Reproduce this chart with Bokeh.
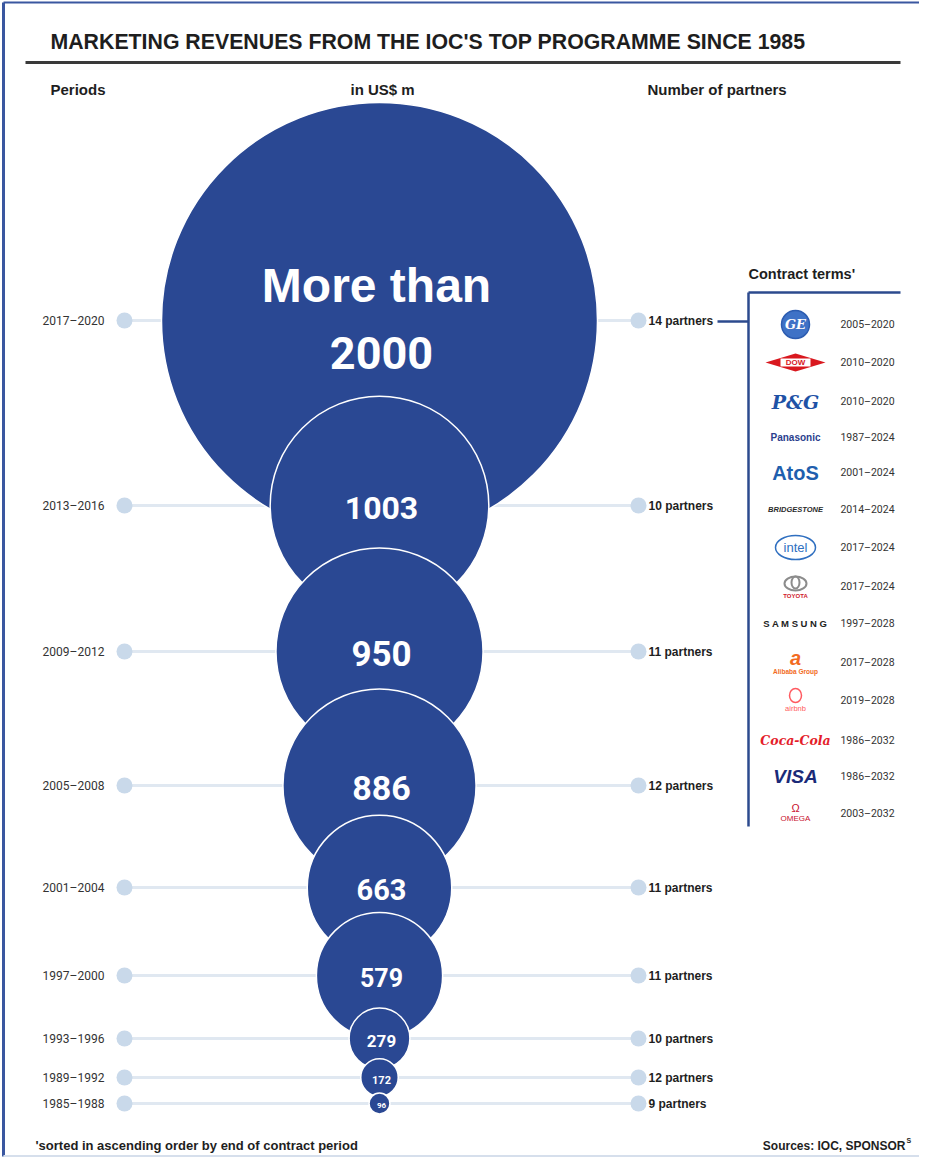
from bokeh.plotting import figure
from bokeh.models import Range1d, ColumnDataSource
from bokeh.core.properties import value
from bokeh.embed import file_html
from bokeh.resources import INLINE

# ---------------- data ----------------
periods = ["2017–2020", "2013–2016", "2009–2012", "2005–2008", "2001–2004",
           "1997–2000", "1993–1996", "1989–1992", "1985–1988"]
revenues = [2000, 1003, 950, 886, 663, 579, 279, 172, 96]
partners = [14, 10, 11, 12, 11, 11, 10, 12, 9]

sponsors = ["GE", "DOW", "P&G", "Panasonic", "AtoS", "BRIDGESTONE", "intel",
            "TOYOTA", "SAMSUNG", "Alibaba Group", "airbnb", "Coca-Cola", "VISA", "OMEGA"]
contract_terms = ["2005–2020", "2010–2020", "2010–2020", "1987–2024", "2001–2024",
                  "2014–2024", "2017–2024", "2017–2024", "1997–2028", "2017–2028",
                  "2019–2028", "1986–2032", "1986–2032", "2003–2032"]

# ---------------- layout ----------------
row_y = [320, 505, 651, 785, 887, 975, 1038, 1077, 1103]
label_px = [45, 32, 35, 34, 29, 25, 17, 11, 8]
logo_y = [324, 362, 401, 437, 472, 509, 547, 586, 623, 662, 700, 740, 776, 813]
R_SCALE = 0.109
CX = 379
LEFT_DOT, RIGHT_DOT = 124, 638

BLUE = "#2a4893"
DOT = "#c9d9ea"
LINE = "#e0e8f1"
NARROW = value("Roboto, sans-serif")
SANS = value("'Liberation Sans', Arial, sans-serif")

p = figure(width=919, height=1157, x_range=Range1d(0, 919), y_range=Range1d(1157, 0),
           output_backend="svg", toolbar_location=None, min_border=0)
p.axis.visible = False
p.grid.visible = False
p.outline_line_color = None
p.background_fill_color = "white"
p.border_fill_color = "white"

# frame
p.segment(x0=[3, 3, 3], y0=[2, 2, 1156], x1=[3, 919, 919], y1=[1156, 2, 1156],
          line_color=["#3a57a0", "#3a57a0", "#d6dfec"], line_width=[3, 2, 3])

# title
p.text(x=[50], y=[41], text=["MARKETING REVENUES FROM THE IOC'S TOP PROGRAMME SINCE 1985"],
       text_font=SANS, text_font_style="bold", text_font_size="21.3px",
       text_color="#1e1e1e", text_baseline="middle")
p.segment(x0=[25], y0=[62], x1=[900], y1=[62], line_color="#3a3a3a", line_width=3)

# column headers
p.text(x=[50, 350, 647], y=[89, 89, 89], text=["Periods", "in US$ m", "Number of partners"],
       text_font=SANS, text_font_style="bold", text_font_size="15px",
       text_color="#1e1e1e", text_baseline="middle")

# rows
src = ColumnDataSource(dict(
    y=row_y,
    x0=[LEFT_DOT] * len(row_y),
    x1=[RIGHT_DOT] * len(row_y),
    cx=[CX] * len(row_y),
    r=[v * R_SCALE for v in revenues],
))
p.segment(x0="x0", y0="y", x1="x1", y1="y", source=src, line_color=LINE, line_width=3)
p.circle(x="x0", y="y", radius=8, source=src, fill_color=DOT, line_color=None)
p.circle(x="x1", y="y", radius=8, source=src, fill_color=DOT, line_color=None)
p.text(x=[73] * len(row_y), y=row_y, text=periods, text_font=NARROW,
       text_font_size="12px", text_color="#333333", text_align="center", text_baseline="middle")
p.text(x=[648] * len(row_y), y=row_y, text=[f"{n} partners" for n in partners],
       text_font=SANS, text_font_style="bold", text_font_size="12px",
       text_color="#1e1e1e", text_baseline="middle")

# bubbles (largest first so that smaller ones overlay)
p.circle(x="cx", y="y", radius="r", source=src, fill_color=BLUE,
         line_color="white", line_width=1.5)

# bubble labels
lab_y = [row_y[0] + 30] + row_y[1:]
for v, yy, fs in zip(revenues, lab_y, label_px):
    p.text(x=[CX + 2], y=[yy + 2], text=[str(v)], text_font=NARROW, text_font_style="bold",
           text_font_size=f"{fs}px", text_color="white",
           text_align="center", text_baseline="middle")
p.text(x=[CX - 3], y=[row_y[0] - 35], text=["More than"], text_font=SANS,
       text_font_style="bold", text_font_size="48px", text_color="white",
       text_align="center", text_baseline="middle")

# contract terms box
p.text(x=[748], y=[273], text=["Contract terms'"], text_font=SANS, text_font_style="bold",
       text_font_size="14.5px", text_color="#1e1e1e", text_baseline="middle")
BOX = "#2c4a8e"
p.segment(x0=[748, 748, 717], y0=[292, 292, row_y[0] + 1], x1=[900, 748, 748],
          y1=[292, 826, row_y[0] + 1], line_color=BOX, line_width=2.5)
p.text(x=[867] * len(logo_y), y=logo_y, text=contract_terms, text_font=NARROW,
       text_font_size="10.5px", text_color="#333333", text_align="center", text_baseline="middle")

# logos (approximations drawn with text and simple shapes)
LX = 795
SERIF = value("'DejaVu Serif', serif")
def t(txt, y, color, size, style="bold", font=SANS, dx=0):
    p.text(x=[LX + dx], y=[y], text=[txt], text_font=font, text_font_style=style,
           text_font_size=f"{size}px", text_color=color, text_align="center",
           text_baseline="middle")

# GE
y = logo_y[0]
p.circle(x=[LX], y=[y], radius=14, fill_color="#3f72c6", line_color="#2c5cb0", line_width=1.5)
t("GE", y, "white", 13, "bold italic", SERIF)
# DOW
y = logo_y[1]
p.patch(x=[LX - 30, LX, LX + 30, LX], y=[y, y - 9, y, y + 9], fill_color="#d9181f", line_color=None)
p.rect(x=[LX], y=[y], width=30, height=8, fill_color="white", line_color=None)
t("DOW", y, "#d9181f", 8)
# P&G
t("P&G", logo_y[2], "#1e52a6", 19, "bold italic", SERIF)
# Panasonic
t("Panasonic", logo_y[3], "#2b3f8e", 10)
# AtoS
t("AtoS", logo_y[4], "#1f5fae", 20)
# Bridgestone
t("BRIDGESTONE", logo_y[5], "#2a2a2a", 7.5, "bold italic")
# intel
y = logo_y[6]
p.ellipse(x=[LX], y=[y], width=40, height=24, fill_color=None, line_color="#2f6fc0", line_width=1.5)
t("intel", y, "#2f6fc0", 13, "normal")
# Toyota
y = logo_y[7]
p.ellipse(x=[LX, LX], y=[y - 3, y - 4], width=[22, 8], height=[14, 12],
          fill_color=None, line_color="#8c8c8c", line_width=2)
t("TOYOTA", y + 9, "#d0202a", 6)
# Samsung
t("S A M S U N G", logo_y[8], "#222222", 9.5)
# Alibaba
y = logo_y[9]
t("a", y - 5, "#f26a21", 20, "bold italic")
t("Alibaba Group", y + 9, "#f26a21", 6.5)
# airbnb
y = logo_y[10]
p.ellipse(x=[LX], y=[y - 5], width=12, height=14, fill_color=None, line_color="#ff5a60", line_width=1.5)
t("airbnb", y + 8, "#ff5a60", 7.5, "normal")
# Coca-Cola
t("Coca-Cola", logo_y[11], "#e41e2b", 12.5, "bold italic", SERIF)
# VISA
t("VISA", logo_y[12], "#1a2a78", 19, "bold italic")
# OMEGA
y = logo_y[13]
t("Ω", y - 6, "#c8102e", 11, "normal")
t("OMEGA", y + 5, "#c8102e", 8, "normal")

# footnotes
p.text(x=[35], y=[1145], text=["'sorted in ascending order by end of contract period"],
       text_font=SANS, text_font_style="bold", text_font_size="13px", text_color="#1e1e1e",
       text_baseline="middle")
p.text(x=[905], y=[1145], text=["Sources: IOC, SPONSOR"], text_font=SANS, text_font_style="bold",
       text_font_size="12px", text_color="#1e1e1e", text_align="right", text_baseline="middle")
p.text(x=[906], y=[1140], text=["S"], text_font=SANS, text_font_style="bold",
       text_font_size="7px", text_color="#1e1e1e", text_baseline="middle")

open("out.html", "w").write(file_html(p, INLINE))
